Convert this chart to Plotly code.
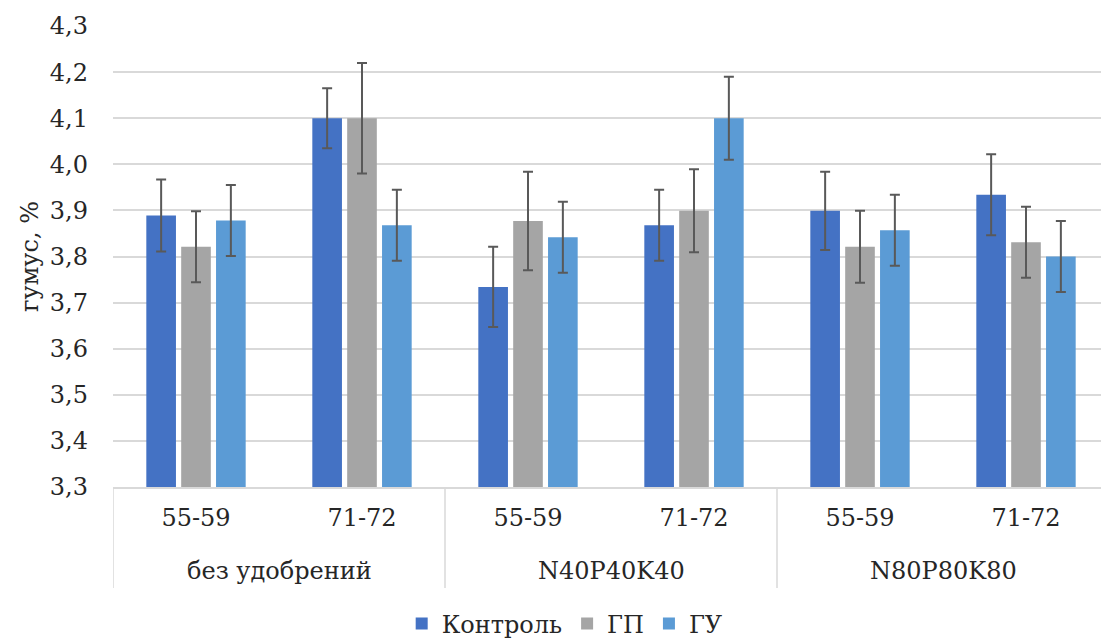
import plotly.graph_objects as go

groups = ["без удобрений", "N40P40K40", "N80P80K80"]
periods = ["55-59", "71-72", "55-59", "71-72", "55-59", "71-72"]
group_of = [0, 0, 1, 1, 2, 2]

series_names = ["Контроль", "ГП", "ГУ"]
kontrol = [3.889, 4.10, 3.734, 3.868, 3.899, 3.934]
gp = [3.821, 4.10, 3.877, 3.899, 3.821, 3.831]
gu = [3.878, 3.868, 3.842, 4.10, 3.857, 3.800]

kontrol_err = [0.078, 0.065, 0.087, 0.077, 0.085, 0.088]
gp_err = [0.077, 0.120, 0.107, 0.090, 0.078, 0.077]
gu_err = [0.077, 0.077, 0.077, 0.090, 0.077, 0.077]

colors = ["#4472C4", "#A5A5A5", "#5B9BD5"]

FONT = "DejaVu Serif"
FS = 24
TXT = "#262626"
GRID = "#D9D9D9"

xpos = list(range(len(periods)))

fig = go.Figure()
for name, vals, errs, col in zip(series_names, [kontrol, gp, gu],
                                 [kontrol_err, gp_err, gu_err], colors):
    fig.add_trace(go.Bar(
        name=name,
        x=xpos,
        y=vals,
        marker=dict(color=col, line=dict(width=0)),
        error_y=dict(type="data", array=errs, visible=True,
                     color="#595959", thickness=2, width=5),
    ))

for gi, gname in enumerate(groups):
    members = [i for i, g in enumerate(group_of) if g == gi]
    center = sum(members) / len(members)
    fig.add_annotation(x=center, xref="x", y=-0.182, yref="paper",
                       text=gname, showarrow=False, yanchor="middle",
                       font=dict(family=FONT, size=FS, color=TXT))
    left = min(members) - 0.5
    fig.add_shape(type="line", xref="x", yref="paper", x0=left, x1=left,
                  y0=0, y1=-0.219, line=dict(color=GRID, width=1.5))

fig.update_layout(
    width=1101, height=635,
    margin=dict(l=105, r=0, t=18, b=156, autoexpand=False),
    paper_bgcolor="white", plot_bgcolor="white",
    separators=", ",
    barmode="group",
    bargap=0.37,
    bargroupgap=0.15,
    font=dict(family=FONT, size=FS, color=TXT),
    showlegend=True,
    legend=dict(orientation="h", x=0.454, xanchor="center", y=-0.297, yanchor="middle",
                font=dict(size=FS, family=FONT, color=TXT),
                traceorder="normal", itemwidth=30),
)
fig.update_yaxes(
    range=[3.3, 4.3], dtick=0.1, tick0=3.3, tickformat=".1f",
    showgrid=True, gridcolor=GRID, gridwidth=1.5,
    zeroline=False, showline=False, ticks="",
    ticklabelstandoff=24,
    automargin=False,
    title=dict(text="гумус, %", font=dict(size=FS, family=FONT, color=TXT), standoff=4),
    tickfont=dict(size=FS, family=FONT, color=TXT),
)
fig.update_xaxes(
    range=[-0.5, len(periods) - 0.5],
    tickmode="array", tickvals=xpos, ticktext=periods,
    showline=True, linecolor=GRID, linewidth=1.5,
    showgrid=False, zeroline=False,
    ticks="", ticklabelstandoff=8,
    automargin=False,
    tickfont=dict(size=FS, family=FONT, color=TXT),
)

fig.write_html("out.html")
